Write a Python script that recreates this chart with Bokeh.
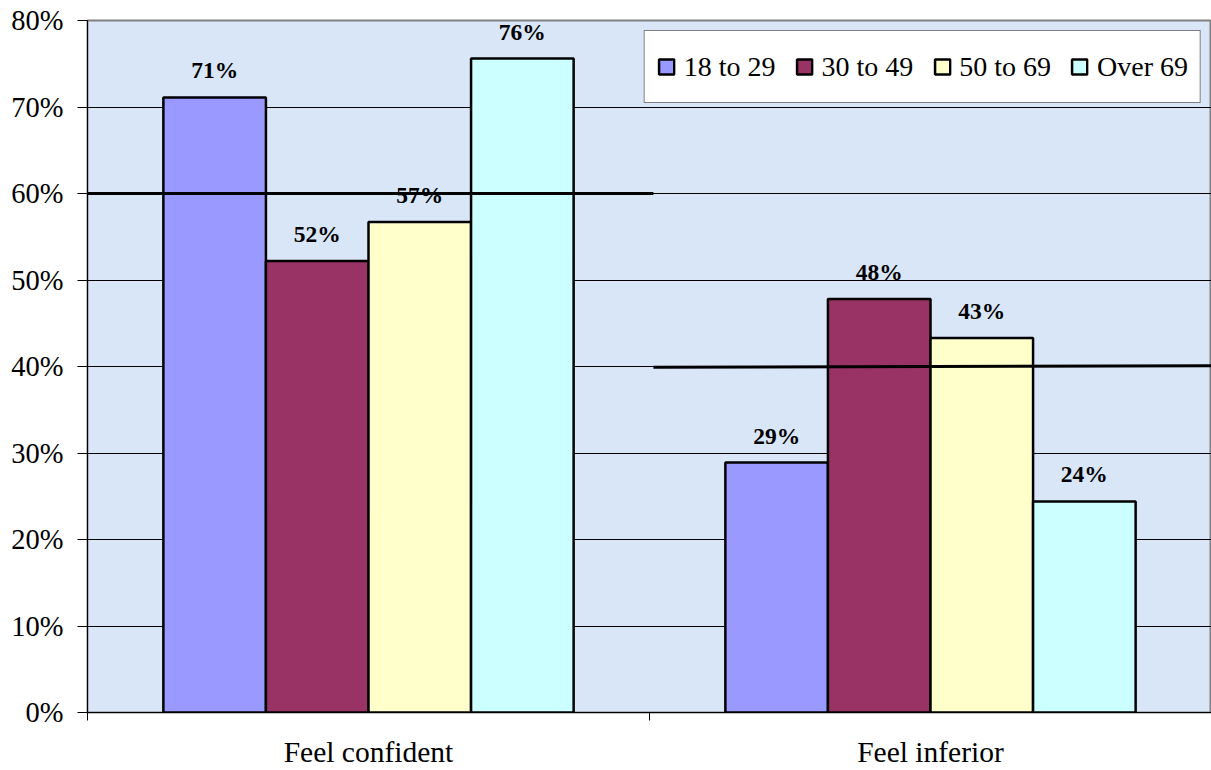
import numpy as np
from bokeh.plotting import figure
from bokeh.models import ColumnDataSource, FixedTicker, Range1d
from bokeh.embed import file_html
from bokeh.resources import INLINE
from bokeh.core.properties import value

# ---------------- data ----------------
categories = ["Feel confident", "Feel inferior"]
age_groups = ["18 to 29", "30 to 49", "50 to 69", "Over 69"]
age_18_29 = [71.1, 28.9]
age_30_49 = [52.2, 47.8]
age_50_69 = [56.7, 43.3]
age_over_69 = [75.6, 24.4]
series = [age_18_29, age_30_49, age_50_69, age_over_69]
colors = ["#9999FF", "#993366", "#FFFFCC", "#CCFFFF"]

# reference (overall) lines per category
ref_start = [60.0, 39.9]
ref_end = [60.0, 40.1]

y_ticks = [0, 10, 20, 30, 40, 50, 60, 70, 80]
y_tick_labels = ["0%", "10%", "20%", "30%", "40%", "50%", "60%", "70%", "80%"]

# ---------------- layout constants ----------------
FONT = "Liberation Serif"
BAR_W = 0.1825
centers = np.arange(len(categories)) + 0.5
offsets = (np.arange(len(age_groups)) - (len(age_groups) - 1) / 2) * BAR_W

p = figure(width=1211, height=770, output_backend="svg", toolbar_location=None,
           x_range=Range1d(0, len(categories)), y_range=Range1d(0, 80),
           min_border_left=87, min_border_right=0, min_border_top=20, min_border_bottom=58)

p.background_fill_color = "#d8e6f8"
p.border_fill_color = "white"
p.outline_line_color = "#808080"
p.outline_line_width = 2

# y axis
p.yaxis.ticker = FixedTicker(ticks=y_ticks, minor_ticks=[])
p.yaxis.major_label_overrides = {t: l for t, l in zip(y_ticks, y_tick_labels)}
p.yaxis.major_label_text_font = FONT
p.yaxis.major_label_text_font_size = "28.5px"
p.yaxis.major_label_text_color = "black"
p.yaxis.major_label_standoff = 14
p.yaxis.major_tick_out = 10
p.yaxis.major_tick_in = 0
p.yaxis.major_tick_line_color = "black"
p.yaxis.axis_line_color = "black"

# x axis: labels at group centers, ticks at group boundaries
p.xaxis.ticker = FixedTicker(ticks=list(centers),
                             minor_ticks=list(np.arange(len(categories) + 1).astype(float)))
p.xaxis.major_label_overrides = {float(c): n for c, n in zip(centers, categories)}
p.xaxis.major_label_text_font = FONT
p.xaxis.major_label_text_font_size = "29.5px"
p.xaxis.major_label_text_color = "black"
p.xaxis.major_label_standoff = 15
p.xaxis.major_tick_line_color = None
p.xaxis.major_tick_out = 8
p.xaxis.minor_tick_out = 8
p.xaxis.minor_tick_in = 0
p.xaxis.minor_tick_line_color = "black"
p.xaxis.axis_line_color = "black"

# grid
p.xgrid.grid_line_color = None
p.ygrid.ticker = FixedTicker(ticks=y_ticks[1:-1])
p.ygrid.grid_line_color = "black"
p.ygrid.grid_line_width = 1

# bars
for name, vals, col, off in zip(age_groups, series, colors, offsets):
    src = ColumnDataSource(dict(x=centers + off, top=vals,
                                label=[f"{round(v)}%" for v in vals]))
    p.vbar(x="x", top="top", width=BAR_W, source=src, fill_color=col,
           line_color="black", line_width=2.5, legend_label=name)
    p.text(x="x", y="top", text="label", source=src, text_font=value(FONT),
           text_font_style="bold", text_font_size="23.5px", text_align="center",
           text_baseline="alphabetic", y_offset=-27, text_color="black")

# reference lines
idx = np.arange(len(categories))
p.segment(x0=idx + np.array([0.0, 0.007]), x1=idx + np.array([1.007, 1.0]),
          y0=ref_start, y1=ref_end, line_color="black", line_width=3)

# legend
p.legend.location = "top_right"
p.legend.orientation = "horizontal"
p.legend.margin = 10
p.legend.padding = 12
p.legend.spacing = 19
p.legend.label_standoff = 8
p.legend.glyph_width = 19
p.legend.glyph_height = 19
p.legend.label_height = 47
p.legend.label_text_font = FONT
p.legend.label_text_font_size = "28px"
p.legend.label_text_color = "black"
p.legend.border_line_color = "black"
p.legend.border_line_width = 1
p.legend.background_fill_color = "white"
p.legend.background_fill_alpha = 1.0

open("out.html", "w").write(file_html(p, INLINE))
